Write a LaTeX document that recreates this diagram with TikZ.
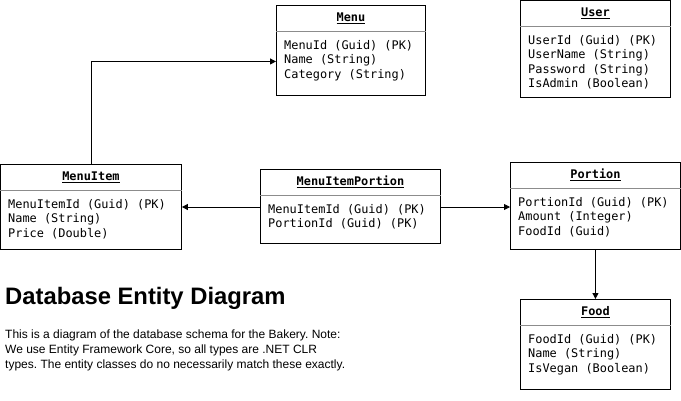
\documentclass[tikz,border=0pt]{standalone}
\usepackage{fontspec}
\setmainfont{Liberation Sans}
\setmonofont{DejaVu Sans Mono}
\usetikzlibrary{arrows.meta}

\tikzset{
  entbox/.style={draw, line width=0.9pt, anchor=north west, inner sep=0pt},
  enttitle/.style={font=\ttfamily\bfseries\fontsize{11.9}{14}\selectfont, inner sep=0pt},
  entfields/.style={font=\ttfamily\fontsize{11.9}{14.5}\selectfont, align=left, anchor=north west, inner sep=0pt},
  divline/.style={draw=black!45, line width=0.6pt},
  conn/.style={line width=0.8pt, -{Triangle[length=6pt,width=6pt]}}
}

\begin{document}
\frenchspacing
\begin{tikzpicture}[x=1pt, y=-1pt]
\useasboundingbox (0,0) rectangle (681,400);

% Menu
\node[entbox, minimum width=149pt, minimum height=90pt] (menu) at (276,5) {};
\node[enttitle] at ([yshift=-13pt]menu.north) {\underline{Menu}};
\draw[divline] ([yshift=-26pt]menu.north west) -- ([yshift=-26pt]menu.north east);
\node[entfields] at ([xshift=8pt, yshift=-35pt]menu.north west) {MenuId (Guid) (PK)\\Name (String)\\Category (String)};

% User
\node[entbox, minimum width=150pt, minimum height=97pt] (user) at (520,0) {};
\node[enttitle] at ([yshift=-13pt]user.north) {\underline{User}};
\draw[divline] ([yshift=-26pt]user.north west) -- ([yshift=-26pt]user.north east);
\node[entfields] at ([xshift=8pt, yshift=-35pt]user.north west) {UserId (Guid) (PK)\\UserName (String)\\Password (String)\\IsAdmin (Boolean)};

% MenuItem
\node[entbox, minimum width=181pt, minimum height=85pt] (menuitem) at (0,164) {};
\node[enttitle] at ([yshift=-13pt]menuitem.north) {\underline{MenuItem}};
\draw[divline] ([yshift=-26pt]menuitem.north west) -- ([yshift=-26pt]menuitem.north east);
\node[entfields] at ([xshift=8pt, yshift=-35pt]menuitem.north west) {MenuItemId (Guid) (PK)\\Name (String)\\Price (Double)};

% MenuItemPortion
\node[entbox, minimum width=180pt, minimum height=74pt] (mip) at (260,169) {};
\node[enttitle] at ([yshift=-13pt]mip.north) {\underline{MenuItemPortion}};
\draw[divline] ([yshift=-26pt]mip.north west) -- ([yshift=-26pt]mip.north east);
\node[entfields] at ([xshift=8pt, yshift=-35pt]mip.north west) {MenuItemId (Guid) (PK)\\PortionId (Guid) (PK)};

% Portion
\node[entbox, minimum width=170pt, minimum height=87pt] (portion) at (510,162) {};
\node[enttitle] at ([yshift=-13pt]portion.north) {\underline{Portion}};
\draw[divline] ([yshift=-26pt]portion.north west) -- ([yshift=-26pt]portion.north east);
\node[entfields] at ([xshift=8pt, yshift=-35pt]portion.north west) {PortionId (Guid) (PK)\\Amount (Integer)\\FoodId (Guid)};

% Food
\node[entbox, minimum width=150pt, minimum height=90pt] (food) at (520,299) {};
\node[enttitle] at ([yshift=-13pt]food.north) {\underline{Food}};
\draw[divline] ([yshift=-26pt]food.north west) -- ([yshift=-26pt]food.north east);
\node[entfields] at ([xshift=8pt, yshift=-35pt]food.north west) {FoodId (Guid) (PK)\\Name (String)\\IsVegan (Boolean)};

% Vztahy
\draw[conn] (menuitem.north) |- ([yshift=-11pt]menu.west);
\draw[conn] (mip.west |- 0,207) -- (menuitem.east |- 0,207);
\draw[conn] (mip.east |- 0,207) -- (portion.west |- 0,207);
\draw[conn] (portion.south) -- (food.north);

% Popis
\node[anchor=west, inner sep=0pt, font=\bfseries\fontsize{23.8}{28}\selectfont] (title) at (5,298) {Database Entity Diagram};
\node[anchor=north west, inner sep=0pt, align=left, font=\fontsize{12}{15}\selectfont] (desc) at (5,330) {This is a diagram of the database schema for the Bakery. Note:\\We use Entity Framework Core, so all types are .NET CLR\\types. The entity classes do no necessarily match these exactly.};
\end{tikzpicture}
\end{document}
